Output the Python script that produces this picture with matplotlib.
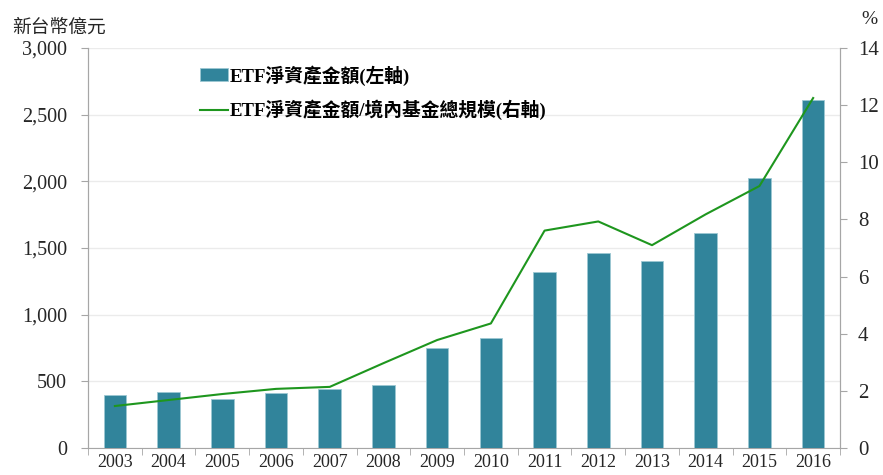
import matplotlib
matplotlib.use('Agg')
import matplotlib.pyplot as plt
import numpy as np

plt.rcParams['font.family'] = ['Liberation Serif', 'Noto Sans CJK TC']

years = ['2003', '2004', '2005', '2006', '2007', '2008', '2009',
         '2010', '2011', '2012', '2013', '2014', '2015', '2016']
etf_assets = [397, 420, 367, 412, 442, 472, 748,
              827, 1320, 1465, 1400, 1610, 2022, 2610]          # 新台幣億元, left axis
etf_share = [1.47, 1.68, 1.89, 2.07, 2.14, 2.97, 3.78,
             4.36, 7.61, 7.93, 7.10, 8.18, 9.17, 12.25]         # %, right axis

bar_color = '#31849B'
line_color = '#1E961E'
axis_gray = '#A6A6A6'

fig = plt.figure(figsize=(8.83, 4.75), dpi=100)
ax1 = fig.add_axes([0.0997, 0.0568, 0.8516, 0.8421])
ax2 = ax1.twinx()

x = np.arange(len(years))
ax1.bar(x, etf_assets, width=0.42, color=bar_color, edgecolor='#9CC7D3', linewidth=0.6,
        label='ETF淨資產金額(左軸)', zorder=3)
ax2.plot(x, etf_share, color=line_color, linewidth=1.5,
         label='ETF淨資產金額/境內基金總規模(右軸)', zorder=4)

ax1.set_xlim(-0.5, len(years) - 0.5)
ax1.set_ylim(0, 3000)
ax2.set_ylim(0, 14)
ax1.set_yticks(range(0, 3001, 500))
ax1.set_yticklabels(['{:,}'.format(v) for v in range(0, 3001, 500)], fontsize=14.5)
ax2.set_yticks(range(0, 15, 2))
ax2.set_yticklabels([str(v) for v in range(0, 15, 2)], fontsize=15)

# years centred, tick marks on category boundaries
ax1.set_xticks(x)
ax1.set_xticklabels(years, fontsize=13)
ax1.set_xticks(np.arange(-0.5, len(years)), minor=True)
ax1.tick_params(axis='x', which='major', length=0, pad=4, colors='#262626')
ax1.tick_params(axis='x', which='minor', length=5, color=axis_gray)
ax1.tick_params(axis='y', length=5, pad=10, color=axis_gray, colors='#262626')
ax2.tick_params(axis='y', length=5, pad=8, color=axis_gray, colors='#262626')

ax1.grid(axis='y', color='#EBEBEB', linewidth=1.0, zorder=0)
ax1.set_axisbelow(True)

for a in (ax1, ax2):
    a.spines['top'].set_visible(False)
    for s in ('left', 'right', 'bottom'):
        a.spines[s].set_color(axis_gray)
ax2.spines['bottom'].set_visible(False)

fig.text(0.014, 0.932, '新台幣億元', fontsize=13.5, color='#262626',
         family=['Noto Sans CJK TC'])
fig.text(0.985, 0.95, '%', fontsize=14, color='#262626', ha='center')

h1, l1 = ax1.get_legend_handles_labels()
h2, l2 = ax2.get_legend_handles_labels()
leg = ax1.legend(h1 + h2, l1 + l2, loc='upper left', bbox_to_anchor=(0.126, 1.0),
                 frameon=False, handlelength=1.5, handletextpad=0.1, labelspacing=0.75,
                 prop={'weight': 'bold', 'size': 13.5})

fig.savefig('out.png', dpi=100)
